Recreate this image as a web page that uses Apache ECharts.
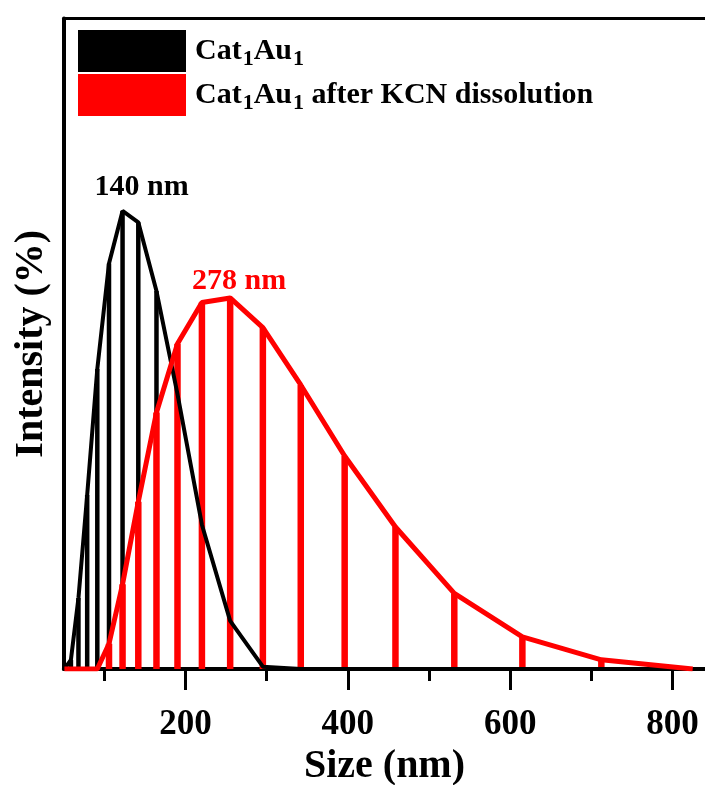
<!DOCTYPE html>
<html>
<head>
<meta charset="utf-8">
<title>DLS size distribution</title>
<script src="https://cdn.jsdelivr.net/npm/echarts@6/dist/echarts.min.js"></script>
<style>
  html, body { margin: 0; padding: 0; background: #fff; overflow: hidden; }
  #chart { width: 705px; height: 785px; }
</style>
</head>
<body>
<div id="chart"></div>
<script>
// size bins (nm) and intensity (%)
var sizes = [50.75, 58.77, 68.06, 78.82, 91.28, 105.7, 122.4, 141.8, 164.2, 190.1,
             220.2, 255.0, 295.3, 342.0, 396.1, 458.7, 531.2, 615.1, 712.4, 825.0];
var blackVals = [0, 0.4, 3.1, 7.6, 13.1, 17.7, 20.0, 19.5, 16.5, 12.0,
                 6.3, 2.1, 0.1, 0, 0, 0, 0, 0, 0, 0];
var redVals = [0, 0, 0, 0, 0, 1.1, 3.7, 7.3, 11.2, 14.2,
               16.0, 16.2, 14.9, 12.4, 9.3, 6.2, 3.3, 1.4, 0.4, 0];
var seriesNames = ['Cat1Au1', 'Cat1Au1 after KCN dissolution'];
var peakLabels = ['140 nm', '278 nm'];
var majorTicks = [200, 400, 600, 800];
var minorTicks = [100, 300, 500, 700];

var FONT = '"Liberation Serif", "Times New Roman", serif';
var X_MIN = 50, X_MAX = 950;

function pairs(vals) {
  return sizes.map(function (s, i) { return [s, vals[i]]; });
}
function peakOf(vals) {
  var k = 0;
  vals.forEach(function (v, i) { if (v > vals[k]) k = i; });
  return [sizes[k], vals[k]];
}

var option = {
  animation: false,
  // plot runs past the right edge of the picture, like the cropped original (0.8115 px per nm)
  grid: { left: 63.8, width: (X_MAX - X_MIN) * 0.8115, top: 18.5, bottom: 116, outerBoundsMode: 'none' },
  legend: {
    orient: 'vertical', left: 78, top: 30, padding: 0,
    itemWidth: 108, itemHeight: 42, itemGap: 2,
    icon: 'rect',
    data: seriesNames,
    formatter: function (name) {
      return name.replace(/Cat1Au1/, '{t|Cat}{s|1}{t|Au}{s|1}').replace(/ after KCN dissolution/, '{t| after KCN dissolution}');
    },
    textStyle: {
      padding: [0, 0, 0, 4],
      rich: {
        t: { fontFamily: FONT, fontWeight: 'bold', fontSize: 30, color: '#000', lineHeight: 42 },
        s: { fontFamily: FONT, fontWeight: 'bold', fontSize: 22, color: '#000', lineHeight: 22, verticalAlign: 'bottom', padding: [0, 0, 2, 1] }
      }
    }
  },
  xAxis: [
    {
      type: 'value', position: 'bottom', min: X_MIN, max: X_MAX,
      name: 'Size (nm)', nameLocation: 'middle', nameGap: 75,
      nameTextStyle: { fontFamily: FONT, fontWeight: 'bold', fontSize: 40, color: '#000', padding: [0, 89, 0, 0] },
      axisLine: { lineStyle: { color: '#000', width: 4 } },
      axisTick: { customValues: majorTicks, length: 21, lineStyle: { color: '#000', width: 3 } },
      axisLabel: { customValues: majorTicks, margin: 38, fontFamily: FONT, fontWeight: 'bold', fontSize: 35, color: '#000' },
      splitLine: { show: false }
    },
    {
      type: 'value', position: 'bottom', min: X_MIN, max: X_MAX,
      axisLine: { show: false },
      axisTick: { customValues: minorTicks, length: 12, lineStyle: { color: '#000', width: 3 } },
      axisLabel: { show: false },
      splitLine: { show: false }
    },
    {
      // top frame line only
      type: 'value', position: 'top', min: X_MIN, max: X_MAX,
      axisLine: { lineStyle: { color: '#000', width: 3 } },
      axisTick: { show: false },
      axisLabel: { show: false },
      splitLine: { show: false }
    }
  ],
  yAxis: {
    type: 'value', min: 0, max: 28.4,
    name: 'Intensity (%)', nameLocation: 'middle', nameGap: 12,
    nameTextStyle: { fontFamily: FONT, fontWeight: 'bold', fontSize: 40, color: '#000' },
    axisLine: { show: true, lineStyle: { color: '#000', width: 4 } },
    axisTick: { show: false },
    axisLabel: { show: false },
    splitLine: { show: false }
  },
  series: [
    {
      name: seriesNames[0], type: 'line', xAxisIndex: 0, color: '#000',
      data: pairs(blackVals), symbol: 'none',
      lineStyle: { width: 4, color: '#000' },
      markPoint: {
        symbol: 'circle', symbolSize: 1, itemStyle: { color: 'transparent' },
        data: [{ coord: peakOf(blackVals), value: peakLabels[0] }],
        label: { show: true, position: 'top', distance: 8, offset: [19, 0], formatter: peakLabels[0],
                 fontFamily: FONT, fontWeight: 'bold', fontSize: 30, color: '#000' }
      }
    },
    {
      name: seriesNames[0], type: 'bar', xAxisIndex: 0, color: '#000',
      data: pairs(blackVals), barWidth: 4.5, itemStyle: { color: '#000' }
    },
    {
      name: seriesNames[1], type: 'line', xAxisIndex: 1, color: '#ff0000',
      data: pairs(redVals), symbol: 'none',
      lineStyle: { width: 5, color: '#ff0000' },
      markPoint: {
        symbol: 'circle', symbolSize: 1, itemStyle: { color: 'transparent' },
        data: [{ coord: peakOf(redVals), value: peakLabels[1] }],
        label: { show: true, position: 'top', distance: 1, offset: [9, 0], formatter: peakLabels[1],
                 fontFamily: FONT, fontWeight: 'bold', fontSize: 30, color: '#ff0000' }
      }
    },
    {
      name: seriesNames[1], type: 'bar', xAxisIndex: 1, color: '#ff0000',
      data: pairs(redVals), barWidth: 6.5, itemStyle: { color: '#ff0000' }
    }
  ]
};

var chart = echarts.init(document.getElementById('chart'));
chart.setOption(option);
</script>
</body>
</html>
